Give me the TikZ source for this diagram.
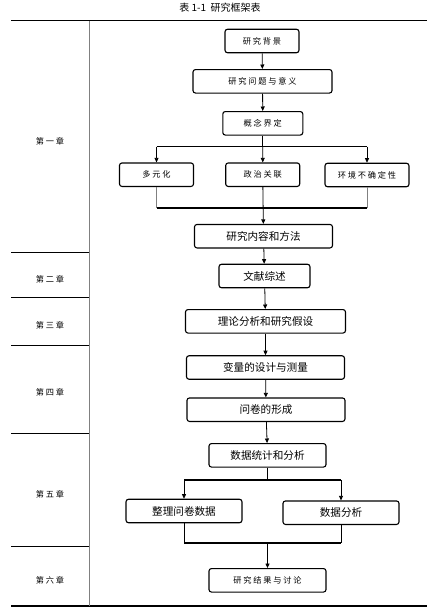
\documentclass[tikz,border=0pt]{standalone}
\usepackage{fontspec}
\setmainfont{Noto Sans CJK SC}
\newfontfamily\cjksp[LetterSpace=22]{Noto Sans CJK SC}
\usetikzlibrary{arrows.meta,calc}
\tikzset{
  box/.style={draw,line width=1.1pt,rounded corners=2.5pt,minimum height=23.5pt,inner sep=0pt},
  sbox/.style={box,font=\fontsize{8.2}{9}\cjksp},
  lbox/.style={box,font=\fontsize{10.6}{12}\selectfont},
  chap/.style={font=\fontsize{8.2}{9}\cjksp},
  arr/.style={-{Triangle[length=4.5pt,width=4pt]},line width=0.8pt},
  link/.style={line width=0.8pt},
  bar/.style={line width=1.6pt},
  rule/.style={line width=0.8pt},
}
\begin{document}
\begin{tikzpicture}[x=1pt,y=-1pt]
  \useasboundingbox (0,0) rectangle (440,610);
  % title and table frame
  \node[font=\fontsize{10}{12}\selectfont] (title) at (220,8) {表 1-1\ \ 研究框架表};
  \draw[line width=1pt] (11,21) -- (427,21);
  \draw[line width=1.6pt] (11,606) -- (427,606);
  \draw[line width=0.6pt,gray] (89,21) -- (89,606);
  \draw[rule] (11,252.5) -- (89,252.5);
  \draw[rule] (11,297) -- (89,297);
  \draw[rule] (11,345.5) -- (89,345.5);
  \draw[line width=1.5pt] (11,433.5) -- (89,433.5);
  \draw[rule] (11,546.5) -- (89,546.5);

  % chapters
  \node[chap] (c1) at (50,141.5) {第一章};
  \node[chap] (c2) at (50,279) {第二章};
  \node[chap] (c3) at (50,325.5) {第三章};
  \node[chap] (c4) at (50,392) {第四章};
  \node[chap] (c5) at (50,494) {第五章};
  \node[chap] (c6) at (50,580.5) {第六章};

  % chapter one
  \node[sbox,minimum width=74pt] (bj) at (262,41) {研究背景};
  \node[sbox,minimum width=139pt] (wt) at (262.5,81.3) {研究问题与意义};
  \node[sbox,minimum width=80pt] (gn) at (262.8,123.3) {概念界定};
  \node[sbox,minimum width=74pt] (dy) at (156.5,174.7) {多元化};
  \node[sbox,minimum width=74pt] (zz) at (262.7,174.7) {政治关联};
  \node[sbox,minimum width=84pt] (hj) at (367,175) {环境不确定性};
  \node[lbox,minimum width=138pt] (nr) at (263.5,236.2) {研究内容和方法};
  \coordinate (fen1) at (262.8,146.7);
  \coordinate (he1) at (262.8,207.7);
  \draw[arr] (bj) -- (wt);
  \draw[arr] (wt) -- (gn);
  \draw[link] (gn) -- (fen1);
  \draw[link] (fen1 -| dy) -- (fen1 -| hj);
  \draw[arr] (fen1 -| dy) -- (dy);
  \draw[arr] (fen1) -- (zz);
  \draw[arr] (fen1 -| hj) -- (hj);
  \draw[link,gray] (dy) -- (he1 -| dy);
  \draw[link,gray] (hj) -- (he1 -| hj);
  \draw[bar] (he1 -| dy) -- (he1 -| hj);
  \draw[arr] (zz) -- (nr);

  % chapters two to four
  \node[lbox,minimum width=91pt] (ws) at (264.5,276) {文献综述};
  \node[lbox,minimum width=160pt] (ll) at (265.5,321.3) {理论分析和研究假设};
  \node[lbox,minimum width=158pt] (bl) at (265.5,367.5) {变量的设计与测量};
  \node[lbox,minimum width=158pt] (wj) at (266,409.7) {问卷的形成};
  \draw[arr] (nr) -- (ws);
  \draw[arr] (ws) -- (ll);
  \draw[arr] (ll) -- (bl);
  \draw[arr] (bl) -- (wj);

  % chapter five and six
  \node[lbox,minimum width=117pt] (tj) at (267.5,455.3) {数据统计和分析};
  \node[lbox,minimum width=116pt] (zl) at (184,511) {整理问卷数据};
  \node[lbox,minimum width=116pt] (fx) at (341,512.7) {数据分析};
  \node[sbox,minimum width=117pt] (jg) at (267.5,580.3) {研究结果与讨论};
  \coordinate (fen2) at (267.5,480);
  \coordinate (he2) at (267.5,542.7);
  \draw[arr] (wj) -- (tj);
  \draw[link] (tj) -- (fen2);
  \draw[bar] (fen2 -| zl) -- (fen2 -| fx);
  \draw[arr] (fen2 -| zl) -- (zl);
  \draw[arr] (fen2 -| fx) -- (fx);
  \draw[link] (zl) -- (he2 -| zl);
  \draw[link] (fx) -- (he2 -| fx);
  \draw[bar] (he2 -| zl) -- (he2 -| fx);
  \draw[arr] (he2) -- (jg);
\end{tikzpicture}
\end{document}
